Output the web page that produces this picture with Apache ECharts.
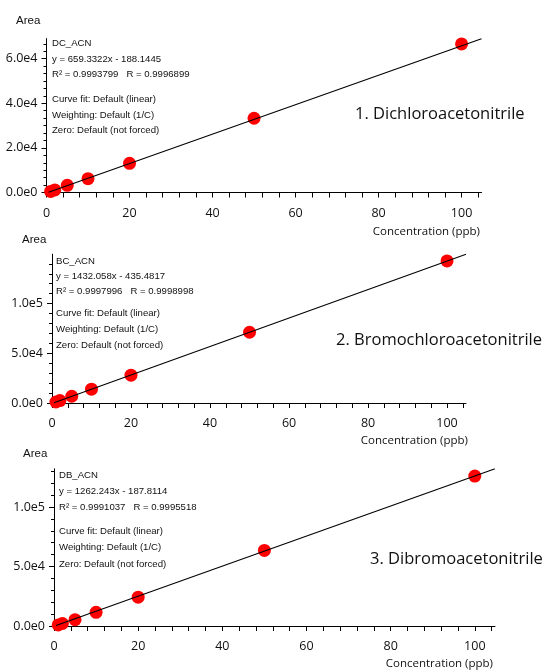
<!DOCTYPE html>
<html>
<head>
<meta charset="utf-8">
<script src="https://cdn.jsdelivr.net/npm/echarts@6/dist/echarts.min.js"></script>
<style>html,body{margin:0;padding:0;background:#fff}#c{width:542px;height:671px}</style>
</head>
<body>
<div id="c"></div>
<script>
// ---- data ----
const concentrations = [1, 2, 5, 10, 20, 50, 100];
const dcArea = [470, 1150, 3200, 6200, 13100, 33300, 66600];
const bcArea = [1000, 2450, 6800, 13900, 28000, 71200, 142900];
const dbArea = [900, 2100, 5300, 11500, 24200, 63500, 126000];

const compoundCodes = ['DC_ACN', 'BC_ACN', 'DB_ACN'];
const compoundTitles = ['1. Dichloroacetonitrile', '2. Bromochloroacetonitrile', '3. Dibromoacetonitrile'];
const slopes = [659.3322, 1432.058, 1262.243];
const intercepts = [-188.1445, -435.4817, -187.8114];
const slopeText = ['659.3322', '1432.058', '1262.243'];
const interceptText = ['188.1445', '435.4817', '187.8114'];
const r2Text = ['0.9993799', '0.9997996', '0.9991037'];
const rText = ['0.9996899', '0.9998998', '0.9995518'];
const fitRange = [0.5, 104.8];

const xMax = 104.8;
const xTickValues = [0, 4, 8, 12, 16, 20, 24, 28, 32, 36, 40, 44, 48, 52, 56, 60, 64, 68, 72, 76, 80, 84, 88, 92, 96, 100, 104];
const xLabelValues = [0, 20, 40, 60, 80, 100];

const yMaxes = [69000, 149700, 132100];
const yMajorTicks = [[0, 20000, 40000, 60000], [0, 50000, 100000], [0, 50000, 100000]];
const yMinorTicks = [
  [3333.33, 6666.67, 10000, 13333.33, 16666.67, 23333.33, 26666.67, 30000, 33333.33, 36666.67, 43333.33, 46666.67, 50000, 53333.33, 56666.67, 63333.33, 66666.67],
  [10000, 20000, 30000, 40000, 60000, 70000, 80000, 90000, 110000, 120000, 130000, 140000],
  [10000, 20000, 30000, 40000, 60000, 70000, 80000, 90000, 110000, 120000, 130000]
];
const areas = [dcArea, bcArea, dbArea];

// ---- layout ----
const grids = [
  {left: 46.5, right: 60.5, top: 38.6, bottom: 478.5},
  {left: 52, right: 76, top: 254.2, bottom: 268},
  {left: 54, right: 47, top: 468.8, bottom: 45}
];
const annot = [
  {x: 52, ys: [43, 59, 74, 99, 115, 130]},
  {x: 56, ys: [261, 276, 291, 313.5, 329, 345]},
  {x: 59, ys: [475, 491, 507.5, 531, 547.5, 564]}
];
const areaPos = [[16, 20.5], [22, 240], [23, 453.5]];
const titlePos = [[355, 114], [336, 340], [370, 559]];
const concPos = [[480, 232], [468, 441], [493, 664]];

const TICKFONT = '"Open Sans", "Liberation Sans", sans-serif';
const ANFONT = '"Liberation Sans", Arial, sans-serif';
const fmtY = v => Number(v).toExponential(1).replace('e+', 'e');

const xAxes = [], yAxes = [], series = [], graphics = [];
for (let i = 0; i < 3; i++) {
  xAxes.push({
    type: 'value', gridIndex: i, min: 0, max: xMax,
    axisLine: {show: true, lineStyle: {color: '#000', width: 1}},
    axisTick: {show: true, inside: false, length: 5, customValues: xTickValues, lineStyle: {color: '#000'}},
    axisLabel: {show: true, customValues: xLabelValues, margin: 14, color: '#111', fontSize: 12.5, fontFamily: TICKFONT},
    splitLine: {show: false}
  });
  yAxes.push({
    type: 'value', gridIndex: i, min: 0, max: yMaxes[i],
    axisLine: {show: true, lineStyle: {color: '#000', width: 1}},
    axisTick: {show: true, inside: false, length: 5, customValues: yMajorTicks[i], lineStyle: {color: '#000'}},
    axisLabel: {show: true, customValues: yMajorTicks[i], margin: 9, color: '#111', fontSize: 12.5, fontFamily: TICKFONT, formatter: fmtY},
    splitLine: {show: false}
  });
  yAxes.push({
    type: 'value', gridIndex: i, min: 0, max: yMaxes[i], position: 'left',
    axisLine: {show: false},
    axisTick: {show: true, inside: false, length: 3, customValues: yMinorTicks[i], lineStyle: {color: '#000'}},
    axisLabel: {show: false},
    splitLine: {show: false}
  });
  series.push({
    type: 'scatter', xAxisIndex: i, yAxisIndex: i * 2, z: 2,
    symbol: 'circle', symbolSize: 13,
    itemStyle: {color: '#ff0000', opacity: 1},
    data: concentrations.map((c, k) => [c, areas[i][k]])
  });
  series.push({
    type: 'line', xAxisIndex: i, yAxisIndex: i * 2, z: 3, clip: true,
    symbol: 'none', silent: true,
    lineStyle: {color: '#000', width: 1.1},
    data: fitRange.map(x => [x, slopes[i] * x + intercepts[i]])
  });
  const lines = [
    compoundCodes[i],
    'y = ' + slopeText[i] + 'x - ' + interceptText[i],
    'R\u00B2 = ' + r2Text[i] + '   R = ' + rText[i],
    'Curve fit: Default (linear)',
    'Weighting: Default (1/C)',
    'Zero: Default (not forced)'
  ];
  lines.forEach((t, k) => graphics.push({
    type: 'text', x: annot[i].x, y: annot[i].ys[k],
    style: {text: t, fill: '#111', font: '9.6px ' + ANFONT, align: 'left', verticalAlign: 'middle'}
  }));
  graphics.push({type: 'text', x: areaPos[i][0], y: areaPos[i][1],
    style: {text: 'Area', fill: '#111', font: '11.5px ' + ANFONT, align: 'left', verticalAlign: 'middle'}});
  graphics.push({type: 'text', x: titlePos[i][0], y: titlePos[i][1],
    style: {text: compoundTitles[i], fill: '#111', font: '16.5px ' + TICKFONT, align: 'left', verticalAlign: 'middle'}});
  graphics.push({type: 'text', x: concPos[i][0], y: concPos[i][1],
    style: {text: 'Concentration (ppb)', fill: '#111', font: '11.5px ' + TICKFONT, align: 'right', verticalAlign: 'middle'}});
}

const chart = echarts.init(document.getElementById('c'), null, {renderer: 'canvas'});
chart.setOption({
  animation: false,
  backgroundColor: '#fff',
  grid: grids.map(g => Object.assign({containLabel: false}, g)),
  xAxis: xAxes,
  yAxis: yAxes,
  series: series,
  graphic: graphics
});
</script>
</body>
</html>
